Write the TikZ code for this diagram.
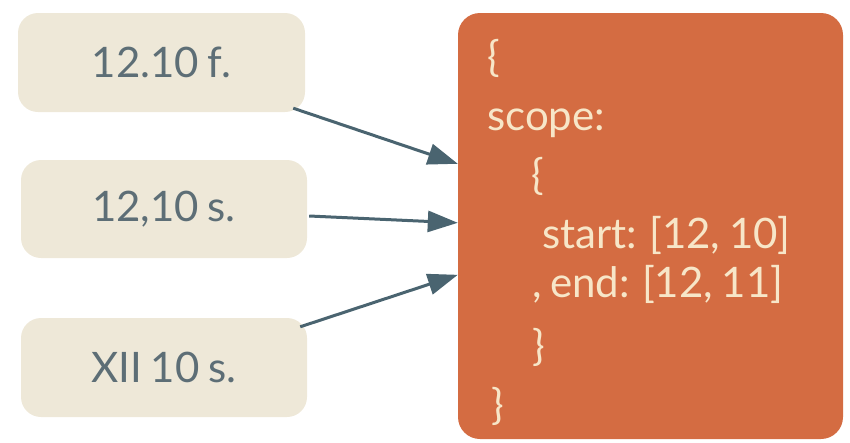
\documentclass[tikz,border=0pt]{standalone}
\usepackage{fontspec}
\setmainfont{Lato}[WordSpace={0.8}]
\usetikzlibrary{arrows.meta,calc}
\definecolor{beige}{HTML}{EEE8D8}
\definecolor{slate}{HTML}{5D6E76}
\definecolor{arrowc}{HTML}{4A6470}
\definecolor{orangebox}{HTML}{D46C42}
\definecolor{cream}{HTML}{F7E6C8}
\tikzset{
  srcbox/.style={fill=beige, rounded corners=20pt, minimum width=286pt, minimum height=98pt, inner sep=0pt, text=slate, font=\fontsize{42}{42}\selectfont},
  codeline/.style={anchor=base west, inner sep=0pt, text=cream, font=\fontsize{42}{42}\selectfont},
  arr/.style={draw=arrowc, line width=3pt, -{Triangle[length=30pt,width=21pt]}}
}
\begin{document}
\begin{tikzpicture}[x=1pt,y=-1pt]
\useasboundingbox (0,0) rectangle (850,442);
\node[srcbox, minimum width=287pt, minimum height=99pt] (b1) at (161.5,62.5) {12.10 f.};
\node[srcbox] (b2) at (164,209) {12,10 s.};
\node[srcbox, minimum height=99pt] (b3) at (164,367.5) {XII 10 s.};
\node[fill=orangebox, rounded corners=22pt, minimum width=385pt, minimum height=426pt, inner sep=0pt] (o) at (650.5,226) {};
\node[codeline] (l1) at (487,71) {\{};
\node[codeline] (l2) at (487,130) {scope:};
\node[codeline] (l3) at (531,189) {\{};
\node[codeline] (l4) at (542,248) {start: [12, 10]};
\node[codeline] (l5) at (532,297) {, end: [12, 11]};
\node[codeline] (l6) at (532,360) {\}};
\node[codeline] (l7) at (491,419) {\}};
\coordinate (t1) at ($(o.north west)+(0,151)$);
\coordinate (t2) at ($(o.north west)+(0,210)$);
\coordinate (t3) at ($(o.north west)+(0,262)$);
\draw[arr] ($(b1.south east)+(-12,-4)$) -- (t1);
\draw[arr] ($(b2.east)+(2,7)$) -- (t2);
\draw[arr] ($(b3.north east)+(-7,9)$) -- (t3);
\end{tikzpicture}
\end{document}
